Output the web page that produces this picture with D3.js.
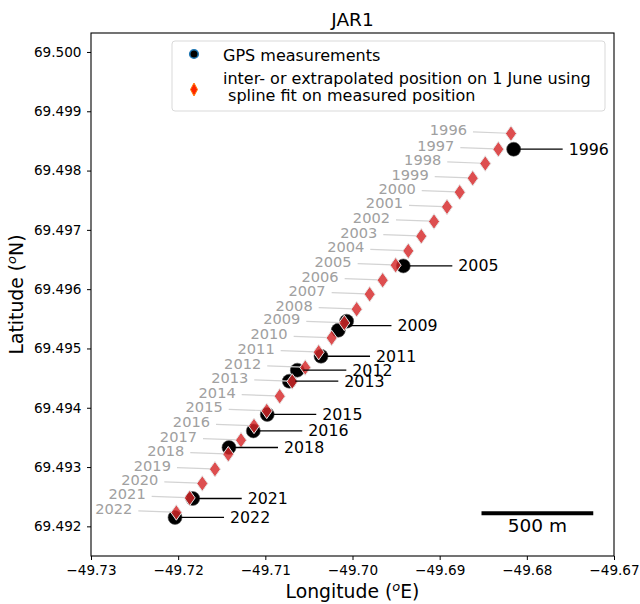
<!DOCTYPE html>
<html>
<head>
<meta charset="utf-8">
<script src="https://cdn.jsdelivr.net/npm/d3@7"></script>
<style>
  body { margin: 0; background: #fff; }
  text { font-family: "DejaVu Sans", sans-serif; }
</style>
</head>
<body>
<script>

// interpolated positions on 1 June (diamonds)
var splineYears = [1996, 1997, 1998, 1999, 2000, 2001, 2002, 2003, 2004, 2005, 2006, 2007, 2008,
    2009, 2010, 2011, 2012, 2013, 2014, 2015, 2016, 2017, 2018, 2019, 2020, 2021, 2022];
var splineLon = [-49.68182, -49.68327, -49.68477, -49.68621, -49.68770, -49.68916, -49.69065,
    -49.69211, -49.69360, -49.69505, -49.69654, -49.69803, -49.69952, -49.70094, -49.70239,
    -49.70388, -49.70542, -49.70691, -49.70835, -49.70984, -49.71130, -49.71279, -49.71425,
    -49.71578, -49.71723, -49.71868, -49.72021];
var splineLat = [69.498624, 69.498360, 69.498118, 69.497871, 69.497635, 69.497387, 69.497141,
    69.496893, 69.496645, 69.496404, 69.496151, 69.495915, 69.495662, 69.495431, 69.495178,
    69.494937, 69.494679, 69.494443, 69.494195, 69.493947, 69.493694, 69.493453, 69.493217,
    69.492964, 69.492723, 69.492480, 69.492234];

// GPS measurements (circles)
var gpsYears = [1996, 2005, 2009, 2009, 2011, 2012, 2013, 2015, 2016, 2018, 2021, 2022];
var gpsLon = [-49.68151, -49.69417, -49.70067, -49.70163, -49.70361, -49.70633, -49.70725,
    -49.70978, -49.71138, -49.71417, -49.71833, -49.72036];
var gpsLat = [69.498360, 69.496392, 69.495460, 69.495308, 69.494869, 69.494634, 69.494448,
    69.493887, 69.493610, 69.493330, 69.492470, 69.492150];

var xTicks = [-49.73, -49.72, -49.71, -49.70, -49.69, -49.68, -49.67];
var yTicks = [69.492, 69.493, 69.494, 69.495, 69.496, 69.497, 69.498, 69.499, 69.500];

var legendLabels = [["GPS measurements"],
    ["inter- or extrapolated position on 1 June using", " spline fit on measured position"]];

// scale bar
var scaleBarMeters = 500;
var scaleBarLon = -49.6852;
var scaleBarLat = 69.49222;

var margin = { top: 33, right: 26, bottom: 48, left: 91 },
    width = 640 - margin.left - margin.right,
    height = 604 - margin.top - margin.bottom;

var svg = d3.select("body").append("svg")
    .attr("width", 640)
    .attr("height", 604);

svg.append("rect").attr("width", 640).attr("height", 604).attr("fill", "#fff");

var g = svg.append("g")
    .attr("transform", "translate(" + margin.left + "," + margin.top + ")");

var x = d3.scaleLinear().domain([-49.73, -49.67]).range([0, width]);
var y = d3.scaleLinear().domain([69.4915, 69.50032]).range([height, 0]);

var fmtMinus = function (v, digits) { return d3.format("." + digits + "f")(v).replace("-", "\u2212"); };

// axes
var xAxis = d3.axisBottom(x).tickValues(xTicks).tickSize(4).tickPadding(5)
    .tickFormat(function (d) { return fmtMinus(d, 2); });
var yAxis = d3.axisLeft(y).tickValues(yTicks).tickSize(4).tickPadding(5.5)
    .tickFormat(function (d) { return d3.format(".3f")(d); });

var gx = g.append("g").attr("transform", "translate(0," + height + ")").call(xAxis);
var gy = g.append("g").call(yAxis);
[gx, gy].forEach(function (a) {
    a.select(".domain").remove();
    a.selectAll("line").attr("stroke", "#000").attr("stroke-width", 1);
    a.selectAll("text").attr("font-size", "13.6px").attr("fill", "#000")
        .style("font-family", "DejaVu Sans");
});

// data layer
var marks = g.append("g");

// gps circles
marks.selectAll("circle.gps")
    .data(gpsYears)
    .enter().append("circle")
    .attr("class", "gps")
    .attr("cx", function (d, i) { return x(gpsLon[i]); })
    .attr("cy", function (d, i) { return y(gpsLat[i]); })
    .attr("r", 7)
    .attr("fill", "#000")
    .attr("stroke", "#555")
    .attr("stroke-width", 0.6);

// gray year labels with leader lines to diamonds
splineYears.forEach(function (yr, i) {
    var px = x(splineLon[i]), py = y(splineLat[i]);
    marks.append("line")
        .attr("x1", px - 38).attr("y1", py - 1.6)
        .attr("x2", px - 3).attr("y2", py - 0.3)
        .attr("stroke", "#d3d3d3").attr("stroke-width", 1.2);
    marks.append("text")
        .attr("x", px - 44).attr("y", py - 4)
        .attr("text-anchor", "end")
        .attr("dominant-baseline", "central")
        .attr("font-size", "14.6px")
        .attr("fill", "#a0a0a0")
        .text(yr);
});

// thin diamonds
function thinDiamond(cx, cy, w, h) {
    return "M" + cx + "," + (cy - h / 2) + "L" + (cx + w / 2) + "," + cy +
        "L" + cx + "," + (cy + h / 2) + "L" + (cx - w / 2) + "," + cy + "Z";
}
marks.selectAll("path.spline")
    .data(splineYears)
    .enter().append("path")
    .attr("class", "spline")
    .attr("d", function (d, i) { return thinDiamond(x(splineLon[i]), y(splineLat[i]), 11, 15.5); })
    .attr("fill", "#d62728")
    .attr("fill-opacity", 0.82)
    .attr("stroke", "#e6e6e6")
    .attr("stroke-width", 1);

// black annotations for gps years (mean position per year)
var gpsGroups = d3.groups(gpsYears.map(function (yr, i) { return { yr: yr, i: i }; }), function (d) { return d.yr; });
gpsGroups.forEach(function (grp) {
    var px = d3.mean(grp[1], function (d) { return x(gpsLon[d.i]); });
    var py = d3.mean(grp[1], function (d) { return y(gpsLat[d.i]); });
    marks.append("line")
        .attr("x1", px + 6).attr("y1", py)
        .attr("x2", px + 49).attr("y2", py)
        .attr("stroke", "#000").attr("stroke-width", 1.3);
    marks.append("text")
        .attr("x", px + 55).attr("y", py)
        .attr("dominant-baseline", "central")
        .attr("font-size", "15.8px")
        .attr("fill", "#000")
        .text(grp[0]);
});

// scale bar
var degPerMeter = 1 / (111320 * Math.cos(scaleBarLat * Math.PI / 180));
var sbX1 = x(scaleBarLon), sbX2 = x(scaleBarLon + scaleBarMeters * degPerMeter), sbY = y(scaleBarLat);
g.append("line")
    .attr("x1", sbX1).attr("x2", sbX2).attr("y1", sbY).attr("y2", sbY)
    .attr("stroke", "#000").attr("stroke-width", 4);
g.append("text")
    .attr("x", (sbX1 + sbX2) / 2).attr("y", sbY + 18.5)
    .attr("text-anchor", "middle")
    .attr("font-size", "18.5px")
    .text(scaleBarMeters + " m");

// legend
var lg = g.append("g").attr("transform", "translate(" + (172 - margin.left) + "," + (41 - margin.top) + ")");
lg.append("rect")
    .attr("width", 433).attr("height", 70)
    .attr("rx", 3)
    .attr("fill", "#fff").attr("fill-opacity", 0.8)
    .attr("stroke", "#d9d9d9").attr("stroke-width", 1);
lg.append("circle")
    .attr("cx", 22).attr("cy", 13).attr("r", 4.3)
    .attr("fill", "#000").attr("stroke", "#1f77b4").attr("stroke-width", 1.6);
lg.append("path")
    .attr("d", thinDiamond(22, 48.5, 7, 13))
    .attr("fill", "#ff2400").attr("stroke", "#ff7f0e").attr("stroke-width", 1);
var lineY = [[19.7], [42.7, 60.3]];
legendLabels.forEach(function (lines, k) {
    lines.forEach(function (s, j) {
        lg.append("text")
            .attr("x", 51).attr("y", lineY[k][j])
            .attr("font-size", "16px")
            .attr("xml:space", "preserve")
            .style("white-space", "pre")
            .text(s);
    });
});

// frame
g.append("rect")
    .attr("width", width).attr("height", height)
    .attr("fill", "none").attr("stroke", "#000").attr("stroke-width", 1.1);

// title and axis labels
svg.append("text")
    .attr("x", margin.left + width / 2).attr("y", 26)
    .attr("text-anchor", "middle")
    .attr("font-size", "18.5px")
    .text("JAR1");

var xl = svg.append("text")
    .attr("x", margin.left + width / 2).attr("y", 598)
    .attr("text-anchor", "middle")
    .attr("font-size", "18.8px");
xl.append("tspan").text("Longitude (");
xl.append("tspan").attr("font-size", "13px").attr("font-style", "italic").attr("dy", -7.5).text("o");
xl.append("tspan").attr("dy", 7.5).text("E)");

var yl = svg.append("text")
    .attr("transform", "translate(23," + (margin.top + height / 2) + ") rotate(-90)")
    .attr("text-anchor", "middle")
    .attr("font-size", "18.8px");
yl.append("tspan").text("Latitude (");
yl.append("tspan").attr("font-size", "13px").attr("font-style", "italic").attr("dy", -7.5).text("o");
yl.append("tspan").attr("dy", 7.5).text("N)");

</script>
</body>
</html>
